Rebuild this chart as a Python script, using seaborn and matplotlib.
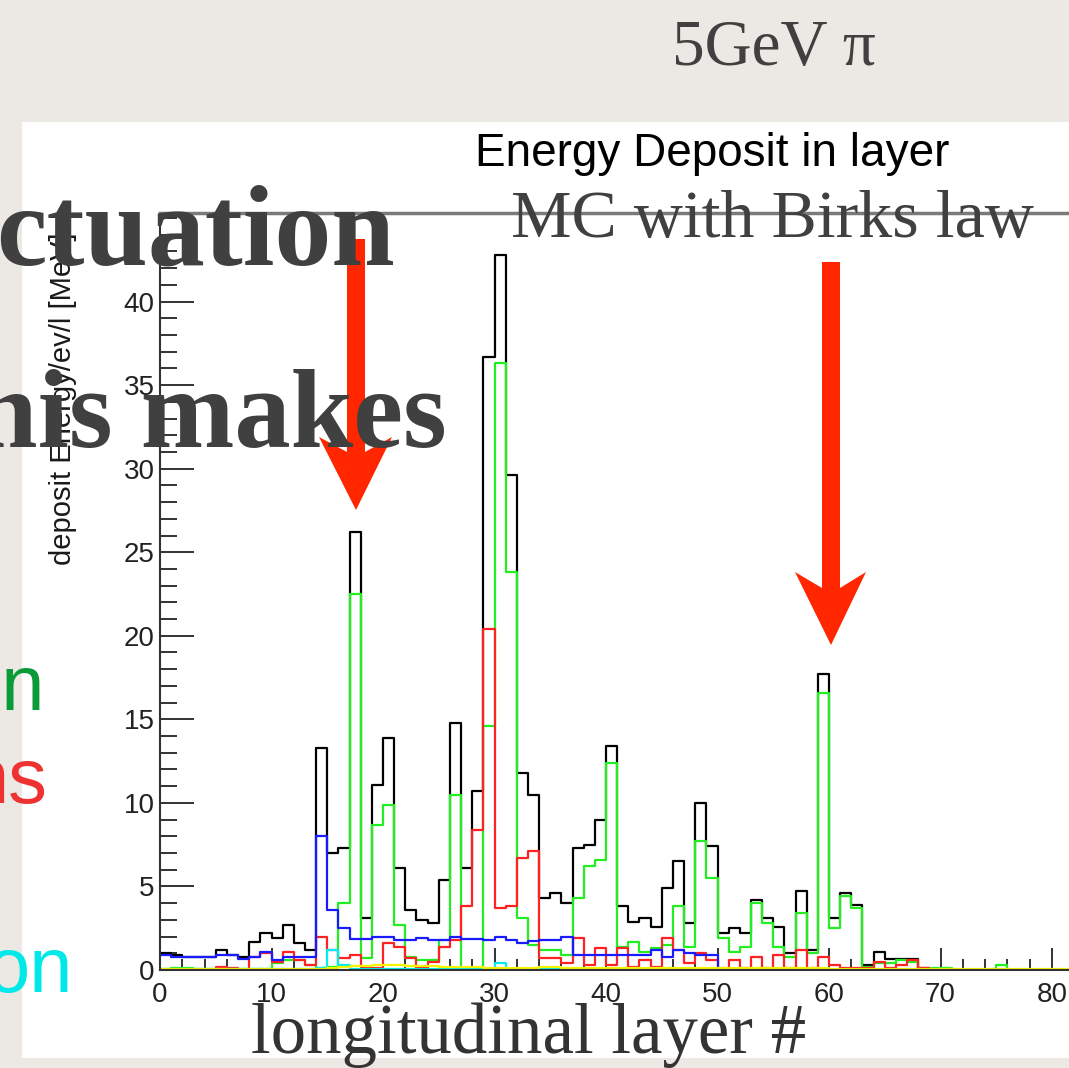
import numpy as np
import pandas as pd
import seaborn as sns
import matplotlib
matplotlib.use("Agg")
import matplotlib.pyplot as plt
from matplotlib.patches import Polygon, Rectangle
from matplotlib.ticker import MultipleLocator

# ---------------- data: energy deposit per longitudinal layer (bins 0..89) ----------------
layer_edges = list(range(0, 91))

total = [1.0, 0.9, 0.75, 0.75, 0.75, 1.2, 0.9, 0.8, 1.7, 2.2,
         1.9, 2.7, 1.6, 1.2, 13.3, 7.0, 7.3, 26.2, 3.1, 11.1,
         13.9, 6.1, 3.6, 3.0, 2.8, 5.4, 14.8, 6.1, 10.7, 36.7,
         42.8, 29.6, 11.8, 10.5, 4.3, 4.6, 4.0, 7.3, 7.5, 9.0,
         13.4, 3.8, 2.9, 3.1, 2.6, 4.9, 6.5, 2.8, 10.0, 7.4,
         2.2, 2.5, 2.2, 4.2, 3.1, 2.6, 1.0, 4.7, 1.2, 17.7,
         3.1, 4.6, 3.9, 0.3, 1.1, 0.65, 0.65, 0.65, 0.1, 0.0,
         0.0, 0.0, 0.0, 0.0, 0.0, 0.0, 0.0, 0.0, 0.0, 0.0,
         0.0, 0.0, 0.0, 0.0, 0.0, 0.0, 0.0, 0.0, 0.0, 0.0]

green = [0.05, 0.1, 0.1, 0.05, 0.05, 0.05, 0.05, 0.05, 0.05, 0.05,
         0.4, 0.6, 0.6, 0.3, 0.1, 0.2, 4.0, 22.5, 0.7, 8.7,
         9.9, 2.7, 0.8, 0.6, 0.6, 1.8, 10.5, 0.1, 0.1, 14.6,
         36.3, 23.8, 3.1, 1.5, 1.2, 1.2, 0.9, 4.3, 6.2, 6.6,
         12.4, 1.4, 1.7, 1.1, 1.3, 1.5, 3.8, 1.4, 7.7, 5.5,
         1.9, 1.1, 1.4, 4.0, 2.8, 1.4, 0.8, 3.4, 1.0, 16.6,
         2.5, 4.4, 3.7, 0.2, 0.4, 0.4, 0.6, 0.5, 0.05, 0.1,
         0.1, 0.0, 0.0, 0.0, 0.0, 0.3, 0.0, 0.0, 0.0, 0.0,
         0.0, 0.0, 0.0, 0.0, 0.0, 0.0, 0.0, 0.0, 0.0, 0.0]

red = [0.0, 0.0, 0.0, 0.0, 0.0, 0.2, 0.1, 0.0, 0.8, 1.0,
       0.5, 1.1, 0.6, 0.3, 2.0, 1.2, 0.7, 0.9, 0.2, 0.1,
       1.6, 1.4, 0.7, 0.1, 0.5, 1.4, 1.8, 3.8, 8.4, 20.4,
       3.7, 3.8, 6.7, 7.1, 0.7, 0.7, 0.4, 1.9, 0.3, 1.3,
       0.3, 1.3, 0.2, 0.6, 0.2, 1.9, 1.2, 0.4, 1.0, 0.6,
       0.1, 0.6, 0.1, 0.8, 0.1, 0.9, 0.1, 1.2, 0.1, 0.8,
       0.3, 0.1, 0.1, 0.1, 0.5, 0.1, 0.3, 0.6, 0.1, 0.0,
       0.0, 0.0, 0.0, 0.0, 0.0, 0.0, 0.0, 0.0, 0.0, 0.0,
       0.0, 0.0, 0.0, 0.0, 0.0, 0.0, 0.0, 0.0, 0.0, 0.0]

blue = [0.9, 0.8, 0.75, 0.75, 0.75, 0.9, 0.9, 0.65, 0.75, 1.05,
        0.6, 0.75, 0.75, 0.75, 8.0, 3.6, 2.5, 1.85, 1.85, 2.0,
        2.0, 1.8, 1.8, 1.9, 1.8, 1.8, 2.0, 1.85, 1.85, 1.8,
        2.0, 1.8, 1.6, 1.75, 1.8, 1.8, 2.0, 0.9, 0.9, 0.9,
        0.9, 0.9, 0.9, 0.9, 1.2, 0.8, 1.2, 1.0, 0.9, 0.9,
        0.0, 0.0, 0.0, 0.0, 0.0, 0.0, 0.0, 0.0, 0.0, 0.0,
        0.0, 0.0, 0.0, 0.0, 0.0, 0.0, 0.0, 0.0, 0.0, 0.0,
        0.0, 0.0, 0.0, 0.0, 0.0, 0.0, 0.0, 0.0, 0.0, 0.0,
        0.0, 0.0, 0.0, 0.0, 0.0, 0.0, 0.0, 0.0, 0.0, 0.0]

cyan = [0.05, 0.05, 0.05, 0.05, 0.05, 0.05, 0.05, 0.05, 0.05, 0.05,
        0.05, 0.05, 0.05, 0.05, 0.1, 1.2, 0.3, 0.05, 0.05, 0.05,
        0.05, 0.05, 0.05, 0.05, 0.05, 0.05, 0.05, 0.05, 0.05, 0.05,
        0.4, 0.05, 0.05, 0.05, 0.05, 0.05, 0.05, 0.05, 0.05, 0.05,
        0.05, 0.05, 0.05, 0.05, 0.05, 0.05, 0.05, 0.05, 0.05, 0.05,
        0.05, 0.05, 0.05, 0.05, 0.05, 0.05, 0.05, 0.05, 0.05, 0.05,
        0.0, 0.0, 0.0, 0.0, 0.0, 0.0, 0.0, 0.0, 0.0, 0.0,
        0.0, 0.0, 0.0, 0.0, 0.0, 0.0, 0.0, 0.0, 0.0, 0.0,
        0.0, 0.0, 0.0, 0.0, 0.0, 0.0, 0.0, 0.0, 0.0, 0.0]

yellow = [0.03, 0.03, 0.03, 0.03, 0.03, 0.03, 0.03, 0.03, 0.03, 0.03,
          0.03, 0.03, 0.03, 0.03, 0.05, 0.1, 0.15, 0.25, 0.25, 0.3,
          0.3, 0.3, 0.25, 0.25, 0.25, 0.2, 0.2, 0.15, 0.15, 0.1,
          0.1, 0.1, 0.1, 0.1, 0.15, 0.15, 0.1, 0.1, 0.1, 0.1,
          0.1, 0.1, 0.1, 0.1, 0.1, 0.1, 0.1, 0.1, 0.1, 0.1,
          0.1, 0.1, 0.1, 0.1, 0.1, 0.1, 0.1, 0.1, 0.1, 0.1,
          0.05, 0.05, 0.05, 0.05, 0.05, 0.05, 0.05, 0.05, 0.03, 0.03,
          0.03, 0.03, 0.03, 0.03, 0.03, 0.03, 0.03, 0.03, 0.03, 0.03,
          0.03, 0.03, 0.03, 0.03, 0.03, 0.03, 0.03, 0.03, 0.03, 0.03]

x_ticks = [0, 10, 20, 30, 40, 50, 60, 70, 80, 90]
y_ticks = [0, 5, 10, 15, 20, 25, 30, 35, 40]

# ---------------- figure ----------------
sns.set_theme(style="white")
plt.rcParams['font.family'] = ['Liberation Sans', 'DejaVu Sans']

W, H = 1069, 1068
fig = plt.figure(figsize=(W / 100, H / 100), dpi=100, facecolor='#ECE9E4')


def fx(px):
    return px / W


def fy(py):
    return 1 - py / H


# white pasted picture
fig.add_artist(Rectangle((fx(22), fy(1058)), 1.0, fy(122) - fy(1058),
                         transform=fig.transFigure, facecolor='white',
                         edgecolor='none', zorder=-5))

x0_px, y0_px, ytop_px = 160, 970, 213
px_per_x = 11.15
xmax, ymax = 90, 45.3
ax = fig.add_axes([fx(x0_px), fy(y0_px), xmax * px_per_x / W, fy(ytop_px) - fy(y0_px)])
ax.set_facecolor('none')

df = pd.DataFrame({
    'layer': np.array(layer_edges[:-1]) + 0.5,
    'total': total, 'green': green, 'red': red,
    'blue': blue, 'cyan': cyan, 'yellow': yellow,
})

series = [('total', '#000000'), ('green', '#22EE22'), ('red', '#FF2222'),
          ('blue', '#1A1AFF'), ('cyan', '#00EEEE'), ('yellow', '#F5F500')]
for col, color in series:
    sns.histplot(data=df, x='layer', weights=col, bins=layer_edges,
                 element='step', fill=False, color=color, linewidth=1.6, ax=ax)

ax.set_xlim(0, xmax)
ax.set_ylim(0, ymax)
ax.set_xlabel('')
ax.set_ylabel('')
ax.set_xticks(x_ticks)
ax.set_yticks(y_ticks)
ax.xaxis.set_minor_locator(MultipleLocator(2))
ax.yaxis.set_minor_locator(MultipleLocator(1))
ax.tick_params(axis='x', which='major', direction='in', length=16, width=1.4,
               color='#333333', labelsize=20, labelcolor='#222222', pad=9, bottom=True)
ax.tick_params(axis='x', which='minor', direction='in', length=8, width=1.4,
               color='#333333', bottom=True)
ax.tick_params(axis='y', which='major', direction='in', length=24.5, width=1.4,
               color='#333333', labelsize=20, labelcolor='#222222', pad=4, left=True)
ax.tick_params(axis='y', which='minor', direction='in', length=12, width=1.4,
               color='#333333', left=True)
for side in ['left', 'bottom']:
    ax.spines[side].set_color('#333333')
    ax.spines[side].set_linewidth(1.5)
ax.spines['top'].set_color('#7A7A7A')
ax.spines['top'].set_linewidth(2.5)
ax.spines['right'].set_visible(False)

# y-axis title of the ROOT picture
fig.text(fx(63), fy(565), 'deposit Energy/ev/l [MeV]', rotation=90,
         ha='center', va='bottom', fontsize=21, color='#1A1A1A')

# ROOT histogram title
fig.text(fx(712), fy(166), 'Energy Deposit in layer', ha='center', va='baseline',
         fontsize=33, color='black')

# red arrows (slide annotations)
arrow_color = '#FF2600'
arrows = [
    [(347, 239), (365, 239), (365, 452), (392, 437), (356, 510), (319, 437), (347, 452)],
    [(822, 262), (840, 262), (840, 588), (866, 572), (831, 645), (795, 572), (822, 588)],
]
for pts in arrows:
    pts = np.array(pts, dtype=float)
    fig.add_artist(Polygon(np.column_stack([pts[:, 0] / W, 1 - pts[:, 1] / H]),
                           closed=True, transform=fig.transFigure,
                           facecolor=arrow_color, edgecolor='none', zorder=2))

serif = ['Liberation Serif', 'DejaVu Serif']
slide_grey = '#404040'
fig.text(fx(774), fy(65), '5GeV π', ha='center', va='baseline', fontsize=47,
         family=serif, color=slide_grey, zorder=4)
fig.text(fx(772), fy(237), 'MC with Birks law', ha='center', va='baseline', fontsize=49,
         family=serif, color=slide_grey, zorder=4)
fig.text(fx(529), fy(1053), 'longitudinal layer #', ha='center', va='baseline', fontsize=51,
         family=serif, color='#333333', zorder=4)
fig.text(fx(395), fy(265), 'ctuation', ha='right', va='baseline', fontsize=82,
         family=serif, weight='bold', color=slide_grey, zorder=4)
fig.text(fx(447), fy(447), 'his makes', ha='right', va='baseline', fontsize=81,
         family=serif, weight='bold', color=slide_grey, zorder=4)

sans = ['Liberation Sans', 'DejaVu Sans']
fig.text(fx(45), fy(710), 'on', ha='right', va='baseline', fontsize=56,
         family=sans, color='#0B9A38', zorder=4)
fig.text(fx(48), fy(803), 'ns', ha='right', va='baseline', fontsize=56,
         family=sans, color='#EE3232', zorder=4)
fig.text(fx(73), fy(992), 'on', ha='right', va='baseline', fontsize=56,
         family=sans, color='#00E8E8', zorder=4)

fig.savefig('out.png', dpi=100, facecolor=fig.get_facecolor())
